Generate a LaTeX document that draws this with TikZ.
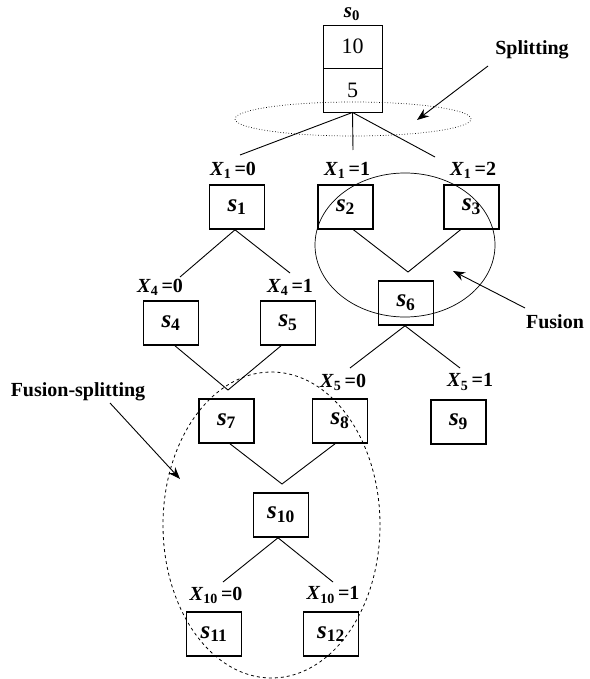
\documentclass[tikz,border=0pt]{standalone}
\usepackage{fontspec}
\setmainfont{Liberation Serif}
\usetikzlibrary{calc,arrows.meta}
\newcommand\sv[1]{\textbf{\textit{s}}\textsubscript{\bfseries #1}}
\newcommand\xv[2]{\textbf{\textit{X}}\textsubscript{\bfseries #1}\,\textbf{#2}}
\begin{document}
\begin{tikzpicture}[x=1pt,y=-1pt,
 box/.style={draw, line width=1.6pt, minimum width=55pt, minimum height=44pt, inner sep=0pt, font=\fontsize{25}{25}\selectfont},
 cell/.style={draw, line width=0.9pt, minimum width=59pt, inner sep=0pt, font=\fontsize{22}{22}\selectfont},
 lab/.style={font=\fontsize{20}{20}\selectfont, inner sep=0pt},
 edge/.style={line width=0.9pt},
 note/.style={font=\fontsize{20}{20}\selectfont\bfseries, inner sep=0pt},
 arr/.style={line width=0.9pt, -{Stealth[length=12pt,width=9pt]}}
]
\useasboundingbox (0,0) rectangle (589,679);
% root
\node[cell, minimum height=43pt] (c10) at (352.5,46.5) {10};
\node[cell, minimum height=44pt] (c5) at (352.5,90) {5};
\node[lab, font=\fontsize{21}{21}\selectfont] (s0) at (352,14) {\sv{0}};
% boxes
\node[box] (s1) at (237,207) {\sv{1}};
\node[box] (s2) at (345.5,207) {\sv{2}};
\node[box] (s3) at (471.5,207) {\sv{3}};
\node[box] (s4) at (171,323) {\sv{4}};
\node[box] (s5) at (288,323) {\sv{5}};
\node[box] (s6) at (406,303) {\sv{6}};
\node[box] (s7) at (226.5,421) {\sv{7}};
\node[box] (s8) at (340,421) {\sv{8}};
\node[box] (s9) at (458.5,422) {\sv{9}};
\node[box] (s10) at (281,515) {\sv{10}};
\node[box] (s11) at (214,634) {\sv{11}};
\node[box] (s12) at (331,634) {\sv{12}};
% free ends
\coordinate (a0) at (240,155);
\coordinate (a1) at (353,150);
\coordinate (a2) at (435,157);
\coordinate (b0) at (180,277);
\coordinate (b1) at (290,273);
\coordinate (v1) at (408,272);
\coordinate (v2) at (228,390);
\coordinate (d0) at (350,368);
\coordinate (d1) at (460,368);
\coordinate (v3) at (282,484);
\coordinate (e0) at (223,582);
\coordinate (e1) at (333,582);
% edges
\draw[edge] (a0) -- (c5.south) -- (a2);
\draw[edge] (c5.south) -- (a1);
\draw[edge] (b0) -- ($(s1.south)+(-2,0)$) -- (b1);
\draw[edge] ($(s2.south)+(8,0)$) -- (v1) -- ($(s3.south)+(-11,0)$);
\draw[edge] ($(s4.south)+(4,0)$) -- (v2) -- ($(s5.south)+(-7,0)$);
\draw[edge] (d0) -- ($(s6.south)+(-1,0)$) -- (d1);
\draw[edge] ($(s7.south)+(3.5,0)$) -- (v3) -- ($(s8.south)+(-5,0)$);
\draw[edge] (e0) -- ($(s10.south)+(-3,0)$) -- (e1);
% branch labels
\node[lab] (l1) at (233,170) {\xv{1}{=0}};
\node[lab] (l2) at (347,170) {\xv{1}{=1}};
\node[lab] (l3) at (473,170) {\xv{1}{=2}};
\node[lab] (l4) at (160,287) {\xv{4}{=0}};
\node[lab] (l5) at (290,287) {\xv{4}{=1}};
\node[lab] (l6) at (343,382) {\xv{5}{=0}};
\node[lab] (l7) at (470,382) {\xv{5}{=1}};
\node[lab] (l8) at (216,595) {\xv{10}{=0}};
\node[lab] (l9) at (333,595) {\xv{10}{=1}};
% ellipses
\draw[line width=0.7pt, dotted] (353,119) ellipse [x radius=118pt, y radius=17pt];
\draw[line width=0.7pt] (405,245) ellipse [x radius=90pt, y radius=72pt];
\draw[line width=0.8pt, dashed] (271.5,525) ellipse [x radius=108.5pt, y radius=153pt];
% notes and arrows
\node[note] (tsplit) at (532,50) {Splitting};
\node[note] (tfus) at (555,322) {Fusion};
\node[note] (tfs) at (78,392) {Fusion-splitting};
\coordinate (p1) at (417,120);
\coordinate (p2) at (453,271);
\coordinate (p3) at (180,479);
\draw[arr] (488,66) -- (p1);
\draw[arr] (525,308) -- (p2);
\draw[arr] (110,403) -- (p3);
\end{tikzpicture}
\end{document}
